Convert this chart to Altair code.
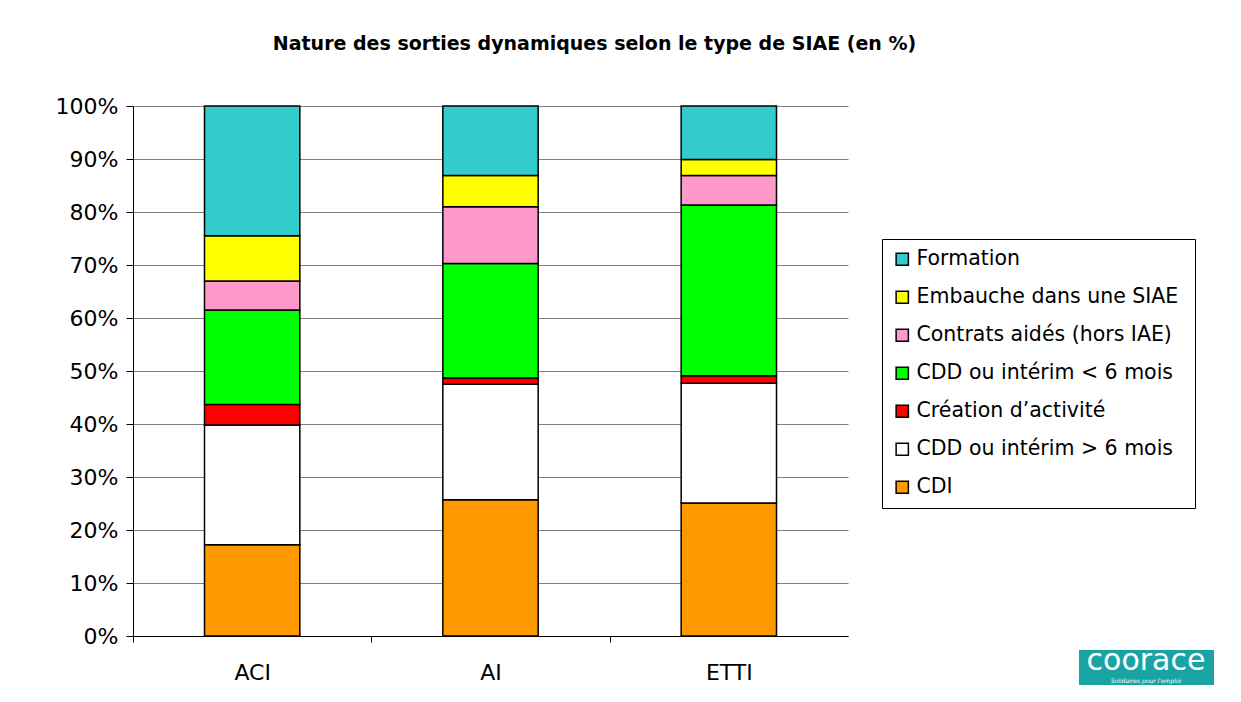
import altair as alt
import pandas as pd

categories = ["ACI", "AI", "ETTI"]
series = [
    "CDI",
    "CDD ou intérim > 6 mois",
    "Création d’activité",
    "CDD ou intérim < 6 mois",
    "Contrats aidés (hors IAE)",
    "Embauche dans une  SIAE",
    "Formation",
]
colors = ["#FF9900", "#FFFFFF", "#FF0000", "#00FF00", "#FF99CC", "#FFFF00", "#33CCCC"]

cdi = [17.2, 25.7, 25.1]
cdd_plus6 = [22.6, 21.8, 22.6]
creation = [3.9, 1.2, 1.4]
cdd_moins6 = [17.8, 21.6, 32.2]
contrats = [5.5, 10.7, 5.6]
embauche = [8.5, 5.9, 3.0]
formation = [24.5, 13.1, 10.1]

values = [cdi, cdd_plus6, creation, cdd_moins6, contrats, embauche, formation]

rows = []
for si, (name, vals) in enumerate(zip(series, values)):
    for ci, cat in enumerate(categories):
        rows.append({"cat": cat, "serie": name, "val": vals[ci] / 100.0, "ord": si})
df = pd.DataFrame(rows)

legend_order = list(reversed(series))
legend_colors = list(reversed(colors))

font = "DejaVu Sans"

W, H = 715, 530
pad_inner, pad_outer = 0.6, 0.3
step = W / (len(categories) - pad_inner + 2 * pad_outer)

bars = alt.Chart(df).mark_bar(stroke="black", strokeWidth=1.5).encode(
    x=alt.X(
        "cat:N",
        sort=categories,
        title=None,
        scale=alt.Scale(paddingInner=pad_inner, paddingOuter=pad_outer),
        axis=alt.Axis(
            labelAngle=0,
            labelFont=font,
            labelFontSize=22,
            labelColor="black",
            labelPadding=20,
            bandPosition=0,
            tickOffset=-pad_inner * step / 2,
            labelOffset=pad_inner * step / 2,
            ticks=True,
            tickSize=6,
            tickWidth=1,
            tickColor="black",
            domainColor="black",
            grid=False,
        ),
    ),
    y=alt.Y(
        "val:Q",
        stack="zero",
        title=None,
        scale=alt.Scale(domain=[0, 1], nice=False),
        axis=alt.Axis(
            format=".0%",
            values=[i / 10 for i in range(11)],
            labelFont=font,
            labelFontSize=22,
            labelColor="black",
            labelPadding=8,
            tickSize=7,
            tickColor="black",
            domainColor="black",
            gridColor="#808080",
            gridWidth=1,
        ),
    ),
    color=alt.Color(
        "serie:N",
        scale=alt.Scale(domain=legend_order, range=legend_colors),
        legend=alt.Legend(
            title=None,
            orient="none",
            legendX=749,
            legendY=133,
            symbolType="square",
            symbolSize=150,
            symbolStrokeColor="black",
            symbolStrokeWidth=1.5,
            symbolOpacity=1,
            labelFont=font,
            labelFontSize=20.5,
            labelColor="black",
            labelLimit=400,
            rowPadding=17,
            padding=10,
            strokeColor="black",
            fillColor="white",
        ),
    ),
    order=alt.Order("ord:Q", sort="ascending"),
)

one = pd.DataFrame({"k": [0]})
logo_box = alt.Chart(one).mark_rect(color="#1AA3A3").encode(
    x=alt.value(946), x2=alt.value(1081), y=alt.value(544), y2=alt.value(579)
)
logo_text = alt.Chart(one).mark_text(
    text="coorace", color="white", font=font, fontSize=30
).encode(x=alt.value(1013), y=alt.value(555))
logo_sub = alt.Chart(one).mark_text(
    text="Solidaires pour l'emploi", color="white", font=font, fontSize=6, fontStyle="italic"
).encode(x=alt.value(1013), y=alt.value(575))

chart = alt.layer(bars, logo_box, logo_text, logo_sub).properties(
    width=W,
    height=H,
    padding={"left": 47, "top": 27, "right": 5, "bottom": 5},
    title=alt.TitleParams(
        "Nature des sorties dynamiques selon le type de SIAE (en %)",
        font=font,
        fontSize=19,
        fontWeight="bold",
        color="black",
        anchor="middle",
        frame="group",
        dx=104,
        offset=41,
    ),
).configure_view(stroke=None)

chart.save("out.html", embed_options={"renderer": "svg", "actions": False})
